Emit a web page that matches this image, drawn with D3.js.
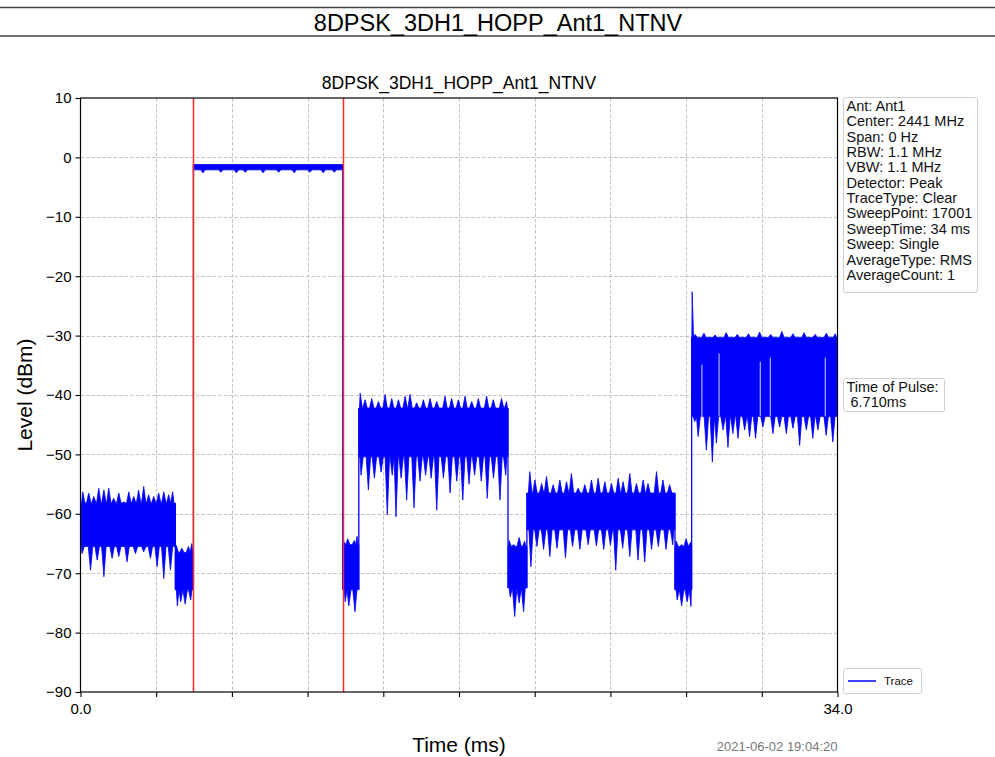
<!DOCTYPE html>
<html>
<head>
<meta charset="utf-8">
<script src="https://cdn.jsdelivr.net/npm/d3@7"></script>
<style>
  body { margin: 0; background: #fff; }
  text { font-family: "Liberation Sans", Arial, sans-serif; }
</style>
</head>
<body>
<script>
// header / chart title
const pageTitle = '8DPSK_3DH1_HOPP_Ant1_NTNV';
const chartTitle = '8DPSK_3DH1_HOPP_Ant1_NTNV';
const stamp = '2021-06-02 19:04:20';

// axis ticks
const yTicks = [10, 0, -10, -20, -30, -40, -50, -60, -70, -80, -90];
const xTicks = [0, 3.4, 6.8, 10.2, 13.6, 17, 20.4, 23.8, 27.2, 30.6, 34];
const xTickLabels = ['0.0', '', '', '', '', '', '', '', '', '', '34.0'];

// trace body per burst / gap (ms, dBm)
const segStart  = [0, 4.26, 5.07, 11.78, 12.5, 19.2, 20.05, 26.7, 27.45];
const segEnd    = [4.26, 5.07, 11.78, 12.5, 19.2, 20.05, 26.7, 27.45, 34];
const segTop    = [-58.2, -66.5, -1.2, -65.2, -42.2, -65.5, -56.5, -65.5, -30.3];
const segBottom = [-65.5, -72.8, -2.1, -72.8, -50.4, -72.5, -62.7, -72.8, -43.6];

// peaks above the body (ms, dBm)
const peakT = [0.10, 0.37, 0.60, 0.82, 1.05, 1.27, 1.49, 1.72, 1.94, 2.17, 2.39, 2.61, 2.84, 3.06, 3.29, 3.51, 3.74, 3.96, 4.14,
    4.30, 4.55, 4.85, 5.00,
    11.85, 12.00, 12.30, 12.42,
    12.56, 12.78, 13.08, 13.38, 13.68, 13.98, 14.28, 14.58, 14.80, 15.10, 15.40, 15.70, 16.00, 16.37, 16.67, 16.97, 17.27, 17.57, 17.87, 18.24, 18.54, 18.91, 19.14,
    19.25, 19.45, 19.70, 19.95,
    20.18, 20.41, 20.71, 20.93, 21.23, 21.53, 21.83, 22.05, 22.35, 22.65, 22.95, 23.25, 23.55, 23.85, 24.15, 24.37, 24.67, 24.97, 25.27, 25.49, 25.87, 26.16, 26.46,
    26.75, 27.00, 27.20, 27.40,
    27.47, 27.60, 28.00, 28.50, 29.00, 29.50, 30.00, 30.50, 31.00, 31.50, 32.00, 32.50, 33.00, 33.50, 33.90];
const peakV = [-56.3, -56.5, -57.1, -55.7, -56.0, -55.7, -57.4, -56.5, -58.0, -56.3, -57.1, -56.0, -55.4, -56.8, -57.1, -56.5, -56.3, -56.8, -56.3,
    -65.3, -65.8, -65.5, -65.0,
    -64.8, -64.2, -64.5, -63.8,
    -39.7, -40.8, -40.6, -41.1, -39.9, -40.6, -40.8, -40.2, -39.9, -41.3, -40.8, -40.6, -41.1, -40.2, -40.6, -40.8, -40.2, -41.1, -40.6, -40.2, -40.8, -40.6, -41.1,
    -64.5, -65.2, -64.0, -64.6,
    -52.9, -54.3, -54.9, -53.7, -55.1, -54.3, -54.6, -53.2, -55.7, -55.1, -54.3, -54.0, -54.6, -54.9, -54.0, -54.6, -53.2, -54.9, -54.3, -54.9, -52.9, -54.3, -55.1,
    -64.6, -65.2, -64.2, -64.8,
    -22.6, -29.8, -29.6, -29.9, -29.5, -29.8, -29.7, -29.4, -29.8, -29.3, -29.7, -29.5, -29.8, -29.6, -29.7];

// dips below the body (ms, dBm)
const dipT = [0.07, 0.45, 0.75, 1.05, 1.42, 1.72, 2.09, 2.47, 2.84, 3.14, 3.44, 3.74, 4.04,
    4.35, 4.50, 4.70, 4.95,
    5.50, 6.30, 7.00, 7.40, 8.20, 8.90, 9.60, 10.30, 10.90, 11.40,
    11.89, 12.05, 12.33,
    12.60, 12.93, 13.20, 13.50, 13.78, 14.00, 14.17, 14.40, 14.65, 14.98, 15.25, 15.50, 15.75, 16.00, 16.30, 16.60, 16.90, 17.17, 17.45, 17.70, 18.00, 18.27, 18.55, 18.84, 19.10,
    19.30, 19.50, 19.70, 19.90,
    20.23, 20.50, 20.80, 21.08, 21.40, 21.78, 22.10, 22.43, 22.80, 23.17, 23.50, 23.80, 24.04, 24.35, 24.67, 25.04, 25.34, 25.65, 25.95, 26.30, 26.60,
    26.80, 27.00, 27.25, 27.42,
    27.59, 27.74, 28.11, 28.38, 28.56, 28.86, 29.08, 29.30, 29.53, 29.83, 30.05, 30.32, 30.65, 31.10, 31.40, 31.70, 32.00, 32.30, 32.60, 32.89, 33.12, 33.49, 33.79];
const dipV = [-66.7, -69.5, -67.8, -70.6, -67.5, -67.2, -68.1, -66.7, -66.4, -67.5, -68.9, -70.9, -69.5,
    -75.5, -74.8, -75.2, -74.5,
    -2.6, -2.5, -2.6, -2.5, -2.6, -2.5, -2.6, -2.5, -2.6, -2.5,
    -74.8, -75.5, -76.5,
    -53.5, -56.0, -54.0, -53.0, -60.2, -53.5, -60.5, -54.0, -57.7, -59.0, -54.5, -53.5, -54.0, -59.4, -54.0, -56.5, -54.5, -57.7, -55.0, -53.5, -54.5, -57.4, -54.0, -57.7, -53.5,
    -74.0, -77.3, -75.0, -76.5,
    -68.9, -65.5, -66.0, -67.2, -65.8, -67.4, -65.5, -66.0, -65.2, -65.4, -66.0, -65.3, -69.5, -65.8, -67.2, -67.8, -68.1, -66.0, -65.5, -66.0, -65.2,
    -74.5, -75.5, -74.8, -75.6,
    -44.5, -47.0, -49.3, -51.3, -48.1, -45.9, -48.8, -46.5, -47.3, -45.9, -47.0, -47.3, -45.4, -46.5, -45.4, -46.5, -45.6, -48.5, -45.9, -47.3, -45.9, -46.8, -47.9];

// pale streaks inside the last burst (ms, dBm top / bottom)
const streakT = [27.91, 28.68, 30.53, 30.98, 33.45];
const streakTop = [-34.9, -33.0, -34.4, -33.7, -33.7];
const streakBottom = [-44.2, -43.6, -43.6, -43.6, -43.6];

// markers
const markerT = [5.07, 11.78];

// side notes
const infoLines = ['Ant: Ant1', 'Center: 2441 MHz', 'Span: 0 Hz', 'RBW: 1.1 MHz', 'VBW: 1.1 MHz', 'Detector: Peak',
    'TraceType: Clear', 'SweepPoint: 17001', 'SweepTime: 34 ms', 'Sweep: Single', 'AverageType: RMS', 'AverageCount: 1'];
const pulseLines = ['Time of Pulse:', ' 6.710ms'];

const width = 995;
const height = 757;
const plot = {left: 80.5, right: 837.5, top: 98, bottom: 692};
const blue = '#0000ff';

const svg = d3.select('body').append('svg')
    .attr('width', width)
    .attr('height', height);

// header band
svg.append('line').attr('x1', 0).attr('x2', width).attr('y1', 7.5).attr('y2', 7.5)
    .attr('stroke', '#444').attr('stroke-width', 1.6);
svg.append('line').attr('x1', 0).attr('x2', width).attr('y1', 36).attr('y2', 36)
    .attr('stroke', '#444').attr('stroke-width', 1.6);
svg.append('text').attr('x', 498).attr('y', 30.5).attr('text-anchor', 'middle')
    .attr('font-size', 23.5).text(pageTitle);

const x = d3.scaleLinear().domain([0, 34]).range([plot.left, plot.right]);
const y = d3.scaleLinear().domain([-90, 10]).range([plot.bottom, plot.top]);

// grid
const grid = svg.append('g').attr('stroke', '#b4b4b4').attr('stroke-width', 0.8).attr('stroke-dasharray', '3.5,2');
grid.selectAll('.gx').data(xTicks.slice(1, -1)).enter().append('line')
    .attr('x1', d => Math.round(x(d)) + 0.5).attr('x2', d => Math.round(x(d)) + 0.5)
    .attr('y1', plot.top).attr('y2', plot.bottom);
grid.selectAll('.gy').data(yTicks.slice(1, -1)).enter().append('line')
    .attr('x1', plot.left).attr('x2', plot.right)
    .attr('y1', d => Math.round(y(d)) + 0.5).attr('y2', d => Math.round(y(d)) + 0.5);

svg.append('clipPath').attr('id', 'clip').append('rect')
    .attr('x', plot.left).attr('y', plot.top)
    .attr('width', plot.right - plot.left).attr('height', plot.bottom - plot.top);

const trace = svg.append('g').attr('clip-path', 'url(#clip)');

// which body a time belongs to
const segOf = t => {
    let k = segStart.findIndex((s, i) => t >= s && t < segEnd[i]);
    return k < 0 ? segStart.length - 1 : k;
};

// ragged edge: body level between read peaks, narrow teeth at each peak
const edge = (ts, vs, base, t0, t1) => {
    const pts = [[t0, base]];
    ts.forEach((t, i) => {
        const prev = i > 0 ? ts[i - 1] : t0;
        const next = i < ts.length - 1 ? ts[i + 1] : t1;
        const hl = Math.min((t - prev) / 2, 0.1);
        const hr = Math.min((next - t) / 2, 0.1);
        pts.push([t - hl, base], [t, vs[i]], [t + hr, base]);
    });
    pts.push([t1, base]);
    return pts;
};

const outline = d3.line().x(p => x(p[0])).y(p => y(p[1]));

const shapes = segStart.map((s, k) => {
    const pi = peakT.map((t, i) => i).filter(i => segOf(peakT[i]) === k);
    const di = dipT.map((t, i) => i).filter(i => segOf(dipT[i]) === k);
    const top = edge(pi.map(i => peakT[i]), pi.map(i => peakV[i]), segTop[k], s, segEnd[k]);
    const bottom = edge(di.map(i => dipT[i]), di.map(i => dipV[i]), segBottom[k], s, segEnd[k]);
    return top.concat(bottom.reverse());
});

trace.selectAll('.body').data(shapes).enter().append('path')
    .attr('d', d => outline(d) + 'Z')
    .attr('fill', blue).attr('stroke', blue).attr('stroke-width', 0.8).attr('stroke-linejoin', 'miter');

// edges between bursts
trace.selectAll('.edge').data(segEnd.slice(0, -1)).enter().append('line')
    .attr('x1', d => x(d)).attr('x2', d => x(d))
    .attr('y1', (d, i) => y(Math.max(segTop[i], segTop[i + 1])))
    .attr('y2', (d, i) => y(Math.min(segBottom[i], segBottom[i + 1])))
    .attr('stroke', blue).attr('stroke-width', 1.3);

trace.selectAll('.streak').data(streakT).enter().append('line')
    .attr('x1', d => x(d)).attr('x2', d => x(d))
    .attr('y1', (d, i) => y(streakTop[i]))
    .attr('y2', (d, i) => y(streakBottom[i]))
    .attr('stroke', '#d4d4ff').attr('stroke-width', 1);

// markers
svg.selectAll('.marker').data(markerT).enter().append('line')
    .attr('x1', d => Math.round(x(d)) + 0.5).attr('x2', d => Math.round(x(d)) + 0.5)
    .attr('y1', plot.top).attr('y2', plot.bottom)
    .attr('stroke', '#ff2a1f').attr('stroke-width', 1.5);

// frame
svg.append('rect').attr('x', plot.left).attr('y', plot.top)
    .attr('width', plot.right - plot.left).attr('height', plot.bottom - plot.top)
    .attr('fill', 'none').attr('stroke', '#000').attr('stroke-width', 1.2);

// axes
const yAxis = d3.axisLeft(y).tickValues(yTicks).tickSize(5).tickPadding(4).tickFormat(d3.format('d'));
const xAxis = d3.axisBottom(x).tickValues(xTicks).tickSize(5).tickPadding(6)
    .tickFormat((d, i) => xTickLabels[i]);

const gy = svg.append('g').attr('transform', 'translate(' + plot.left + ',0)').call(yAxis);
const gx = svg.append('g').attr('transform', 'translate(0,' + plot.bottom + ')').call(xAxis);
[gx, gy].forEach(g => {
    g.select('.domain').remove();
    g.selectAll('line').attr('stroke', '#000').attr('stroke-width', 1.1);
    g.selectAll('text').attr('font-family', '"Liberation Sans", Arial, sans-serif')
        .attr('font-size', 15).attr('fill', '#000');
});

// titles
svg.append('text').attr('x', (plot.left + plot.right) / 2).attr('y', 88.5)
    .attr('text-anchor', 'middle').attr('font-size', 17.5).text(chartTitle);
svg.append('text').attr('x', (plot.left + plot.right) / 2).attr('y', 752)
    .attr('text-anchor', 'middle').attr('font-size', 21).text('Time (ms)');
svg.append('text').attr('transform', 'translate(32,' + ((plot.top + plot.bottom) / 2) + ') rotate(-90)')
    .attr('text-anchor', 'middle').attr('font-size', 21).text('Level (dBm)');
svg.append('text').attr('x', plot.right).attr('y', 751)
    .attr('text-anchor', 'end').attr('font-size', 13).attr('fill', '#777').text(stamp);

// info box
const info = svg.append('g');
info.append('rect').attr('x', 843.5).attr('y', 97.5).attr('width', 134).attr('height', 195)
    .attr('rx', 2).attr('fill', '#fff').attr('stroke', '#cfcfcf');
info.selectAll('text').data(infoLines).enter().append('text')
    .attr('x', 846.5).attr('y', (d, i) => 111 + i * 15.35)
    .attr('font-size', 14.5).attr('fill', '#111').text(d => d);

// pulse note
const note = svg.append('g');
note.append('rect').attr('x', 843.5).attr('y', 378.5).attr('width', 101).attr('height', 33)
    .attr('rx', 2).attr('fill', '#fff').attr('stroke', '#cfcfcf');
note.selectAll('text').data(pulseLines).enter().append('text')
    .attr('x', 846.5).attr('y', (d, i) => 392 + i * 15.35)
    .attr('font-size', 14.5).attr('fill', '#111').attr('xml:space', 'preserve').text(d => d);

// legend
const legend = svg.append('g');
legend.append('rect').attr('x', 843.5).attr('y', 668.5).attr('width', 78).attr('height', 25)
    .attr('rx', 2).attr('fill', '#fff').attr('stroke', '#cfcfcf');
legend.append('line').attr('x1', 848).attr('x2', 876).attr('y1', 681).attr('y2', 681)
    .attr('stroke', blue).attr('stroke-width', 1.5);
legend.append('text').attr('x', 884).attr('y', 685).attr('font-size', 11.5).attr('fill', '#111').text('Trace');
</script>
</body>
</html>
